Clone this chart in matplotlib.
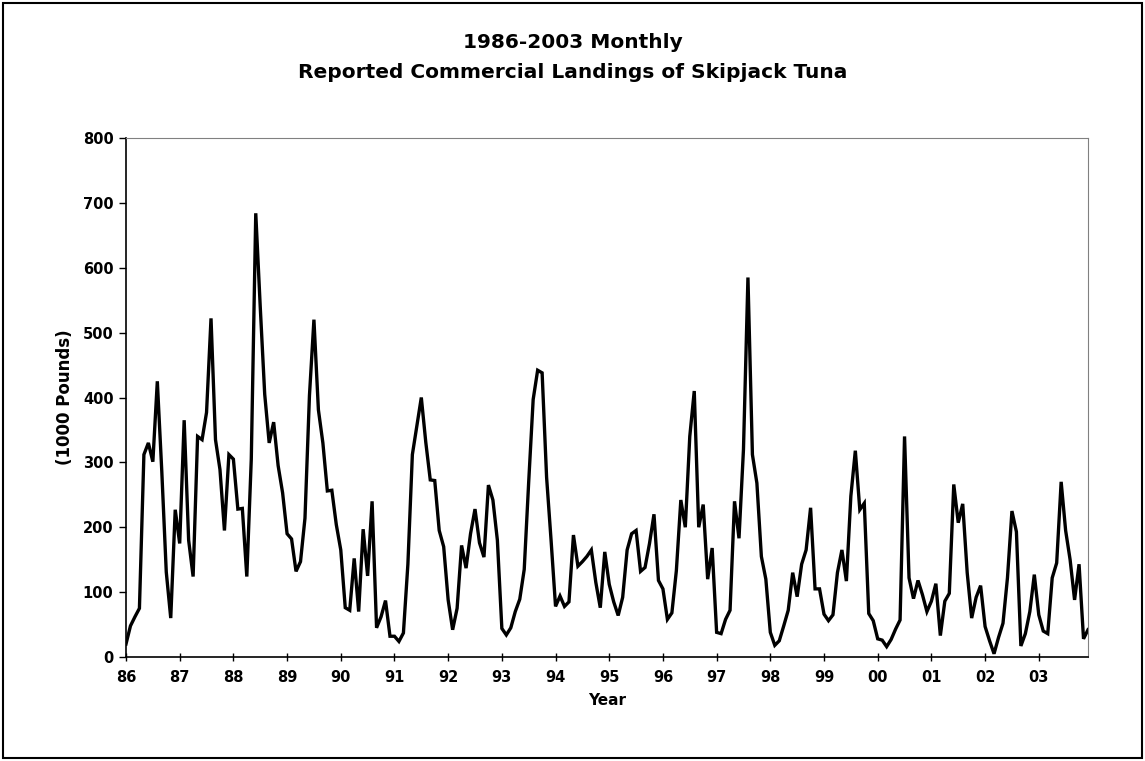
import numpy as np
import matplotlib.pyplot as plt
from matplotlib.patches import Rectangle

# monthly landings (1000 pounds), Jan..Dec
y1986 = [20, 48, 62, 75, 312, 330, 301, 425, 286, 131, 60, 227]
y1987 = [175, 365, 180, 124, 340, 335, 377, 522, 335, 289, 195, 312]
y1988 = [305, 228, 229, 124, 305, 684, 540, 405, 330, 362, 295, 253]
y1989 = [190, 182, 132, 147, 214, 403, 520, 381, 330, 256, 257, 204]
y1990 = [165, 76, 72, 152, 70, 197, 125, 240, 45, 62, 87, 32]
y1991 = [32, 24, 37, 143, 312, 356, 400, 331, 273, 272, 195, 170]
y1992 = [88, 42, 75, 172, 137, 190, 228, 176, 154, 265, 242, 180]
y1993 = [44, 34, 45, 70, 89, 135, 270, 397, 442, 438, 277, 180]
y1994 = [78, 94, 78, 85, 188, 140, 147, 155, 165, 115, 76, 162]
y1995 = [112, 85, 64, 92, 165, 190, 195, 132, 138, 175, 220, 118]
y1996 = [105, 58, 68, 133, 242, 200, 340, 410, 200, 235, 120, 168]
y1997 = [38, 36, 58, 72, 240, 183, 320, 585, 312, 268, 155, 120]
y1998 = [38, 18, 25, 48, 72, 130, 93, 143, 165, 230, 105, 105]
y1999 = [66, 56, 65, 130, 165, 117, 248, 318, 227, 237, 67, 56]
y2000 = [28, 26, 16, 27, 43, 57, 340, 122, 90, 118, 96, 70]
y2001 = [86, 113, 33, 86, 98, 266, 207, 236, 130, 60, 92, 110]
y2002 = [47, 25, 5, 30, 52, 122, 225, 193, 17, 36, 70, 127]
y2003 = [65, 40, 36, 122, 145, 270, 195, 150, 88, 143, 28, 42]

year_labels = ['86', '87', '88', '89', '90', '91', '92', '93', '94',
               '95', '96', '97', '98', '99', '00', '01', '02', '03']

landings = np.concatenate([y1986, y1987, y1988, y1989, y1990, y1991,
                           y1992, y1993, y1994, y1995, y1996, y1997,
                           y1998, y1999, y2000, y2001, y2002, y2003])
months = np.arange(len(landings))

W, H = 1145, 761
fig = plt.figure(figsize=(W / 100, H / 100), dpi=100)

# plot area in pixel terms
left, right, top, bottom = 126, 1088, 138, 657
ax = fig.add_axes([left / W, 1 - bottom / H, (right - left) / W, (bottom - top) / H])

ax.plot(months, landings, color='black', lw=2.4, solid_joinstyle='miter')

ax.set_xlim(0, 215)
ax.set_ylim(0, 800)
ax.set_xticks(np.arange(0, 216, 12))
ax.set_xticklabels(year_labels)
ax.set_yticks(np.arange(0, 801, 100))

for lab in ax.get_xticklabels() + ax.get_yticklabels():
    lab.set_fontweight('bold')
    lab.set_fontsize(10.5)
ax.tick_params(axis='x', length=6, width=1, direction='inout', pad=6)
ax.tick_params(axis='y', length=5, width=1, direction='out', pad=4)

ax.spines['left'].set_linewidth(1.2)
ax.spines['bottom'].set_linewidth(1.2)
ax.spines['top'].set_color('#808080')
ax.spines['right'].set_color('#808080')

ax.set_xlabel('Year', fontsize=11, fontweight='bold', labelpad=6)
ax.set_ylabel('(1000 Pounds)', fontsize=12, fontweight='bold', labelpad=6)

fig.text(0.5, 1 - 42 / H, '1986-2003 Monthly', ha='center', va='center',
         fontsize=14.5, fontweight='bold')
fig.text(0.5, 1 - 73 / H, 'Reported Commercial Landings of Skipjack Tuna',
         ha='center', va='center', fontsize=14.5, fontweight='bold')

# chart area border
fig.patches.append(Rectangle((3 / W, 3 / H), 1 - 6 / W, 1 - 6 / H,
                             transform=fig.transFigure, fill=False,
                             edgecolor='black', linewidth=1.5))

fig.savefig('out.png', dpi=100)
